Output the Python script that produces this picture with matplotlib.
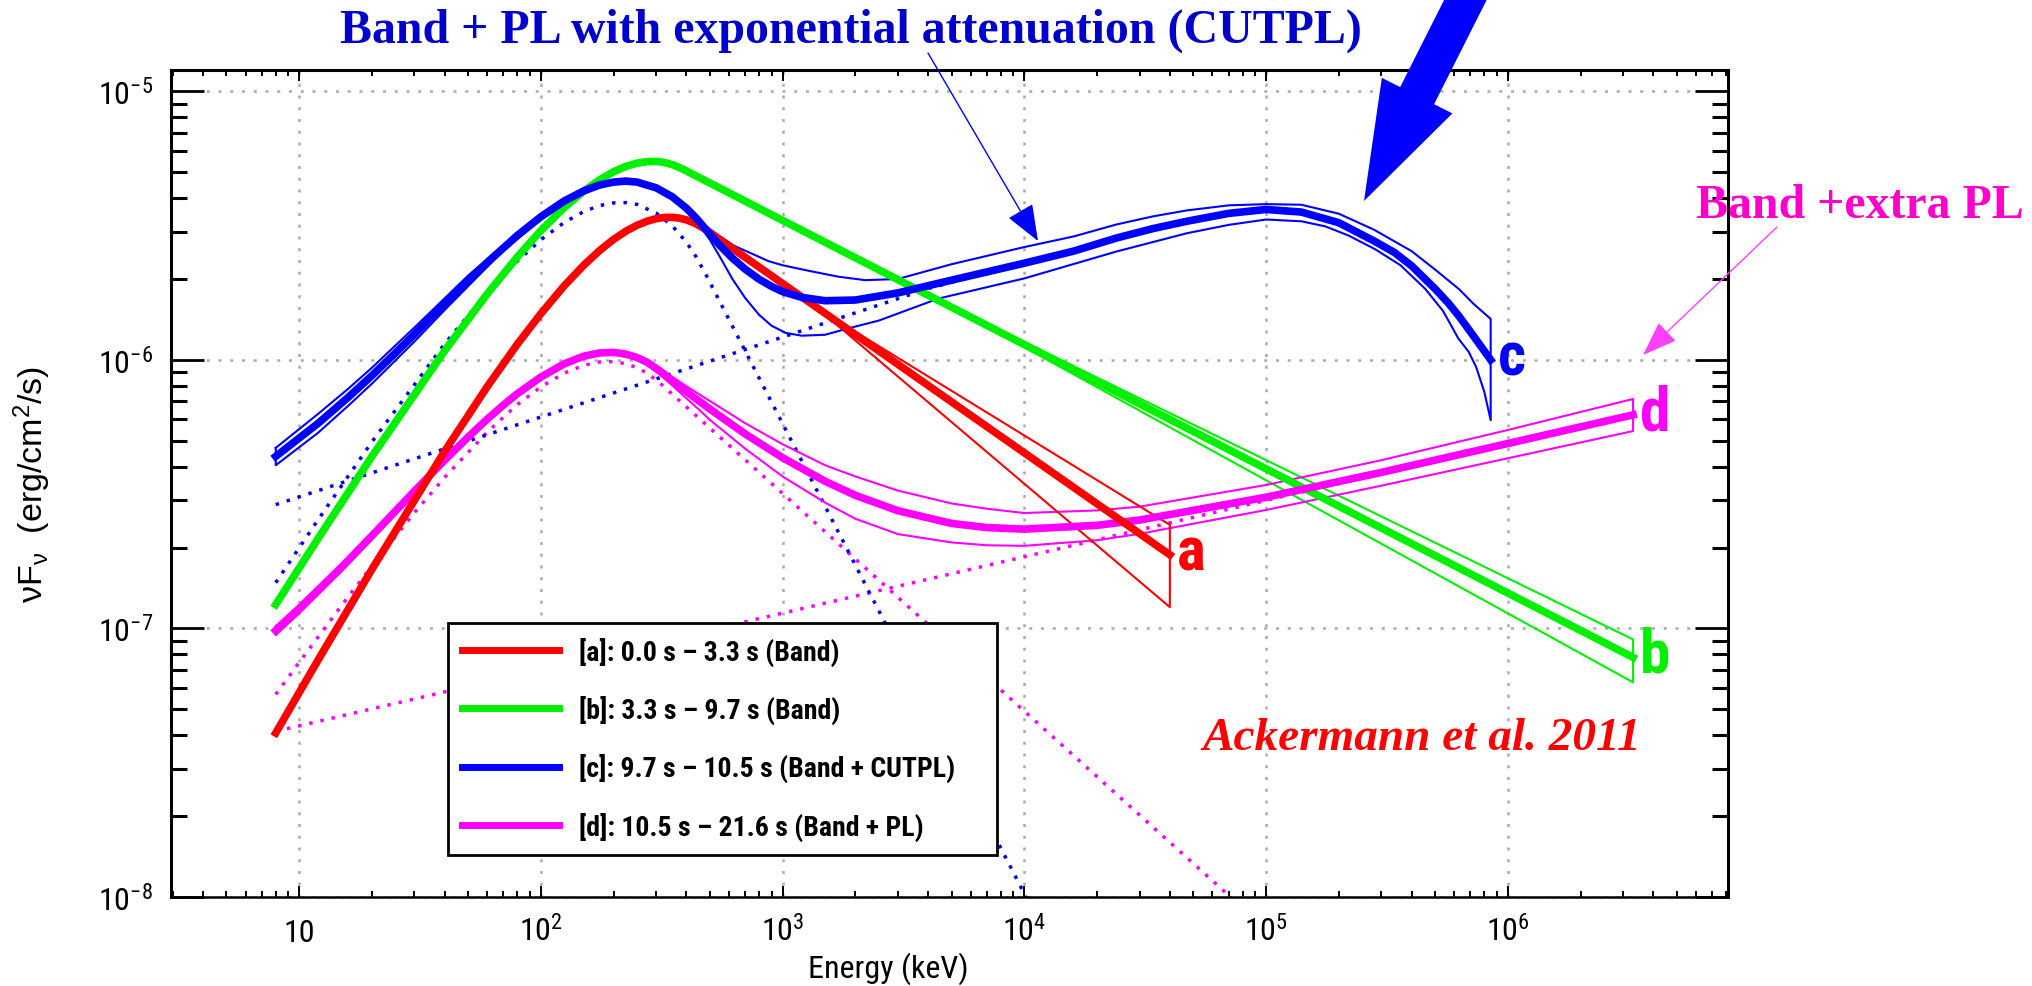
import numpy as np
import matplotlib
matplotlib.use("Agg")
import matplotlib.pyplot as plt
from matplotlib import font_manager as fm
from matplotlib.lines import Line2D
from matplotlib.patches import FancyArrow
from matplotlib.ticker import FixedLocator, LogLocator, NullFormatter


def tiene_negrita(nombre):
    pesos = {str(f.weight) for f in fm.fontManager.ttflist if f.name == nombre}
    return bool(pesos & {"400", "normal", "regular"}) and bool(pesos & {"700", "bold"})


# narrow sans with a real bold face, first one found
SANS = next((n for n in ["Liberation Sans Narrow", "Arial Narrow", "Roboto Condensed",
                         "Archivo Narrow", "PT Sans Narrow", "Fira Sans Condensed",
                         "Sofia Sans Condensed"] if tiene_negrita(n)), "Liberation Sans")
plt.rcParams["font.family"] = [SANS, "DejaVu Sans"]
plt.rcParams["mathtext.default"] = "regular"

# [a] Band, 0.0 - 3.3 s
E_a = [8, 12, 20, 40, 60, 80, 100, 125, 150, 175, 200, 225, 250, 275, 300, 325, 350, 375,
       400, 437, 474, 4.0e4]
F_a = [4.08e-8, 7.65e-8, 1.66e-7, 4.57e-7, 7.95e-7, 1.145e-6, 1.486e-6, 1.888e-6, 2.245e-6,
       2.553e-6, 2.81e-6, 3.015e-6, 3.17e-6, 3.282e-6, 3.355e-6, 3.39e-6, 3.394e-6, 3.368e-6,
       3.32e-6, 3.214e-6, 3.08e-6, 1.88e-7]
E_a_env = [474, 1400, 4.0e4]
F_a_up = [3.08e-6, 1.55e-6, 2.43e-7]
F_a_lo = [3.08e-6, 1.55e-6, 1.2e-7]

# [b] Band, 3.3 - 9.7 s
E_b = [8, 12, 20, 40, 60, 80, 100, 125, 150, 175, 200, 225, 250, 275, 300, 325, 355, 385,
       3.3e6]
F_b = [1.227e-7, 2.168e-7, 4.37e-7, 1.081e-6, 1.761e-6, 2.418e-6, 3.03e-6, 3.69e-6, 4.24e-6,
       4.68e-6, 5.02e-6, 5.25e-6, 5.40e-6, 5.47e-6, 5.48e-6, 5.43e-6, 5.31e-6, 5.14e-6, 7.8e-8]
E_b_env = [385, 4500, 3.3e6]
F_b_up = [5.14e-6, 1.655e-6, 9.1e-8]
F_b_lo = [5.14e-6, 1.655e-6, 6.3e-8]

# [c] Band + CUTPL, 9.7 - 10.5 s
E_c = [8, 12, 16, 20, 25, 30, 40, 50, 60, 80, 100, 125, 150, 175, 200, 225, 250, 300, 350,
       400, 440, 481, 550, 620, 700, 800, 900, 1000, 1200, 1500, 2000, 3000, 5000, 1e4,
       1.6e4, 2.4e4, 3.4e4, 4.7e4, 7e4, 1e5, 1.4e5, 2e5, 2.8e5, 3.4e5, 4e5, 5e5, 5.7e5,
       6.3e5, 7.2e5, 8.5e5]
F_c = [4.37e-7, 5.81e-7, 7.27e-7, 8.74e-7, 1.06e-6, 1.245e-6, 1.614e-6, 1.967e-6, 2.305e-6,
       2.908e-6, 3.41e-6, 3.906e-6, 4.25e-6, 4.479e-6, 4.59e-6, 4.63e-6, 4.59e-6, 4.37e-6,
       4.044e-6, 3.67e-6, 3.364e-6, 3.06e-6, 2.667e-6, 2.392e-6, 2.176e-6, 1.995e-6,
       1.877e-6, 1.794e-6, 1.708e-6, 1.66e-6, 1.67e-6, 1.775e-6, 1.98e-6, 2.29e-6, 2.54e-6,
       2.84e-6, 3.08e-6, 3.28e-6, 3.51e-6, 3.63e-6, 3.55e-6, 3.24e-6, 2.77e-6, 2.51e-6,
       2.24e-6, 1.84e-6, 1.62e-6, 1.45e-6, 1.23e-6, 1.0e-6]
E_c_up = [8, 12, 16, 20, 30, 40, 50, 70, 100, 150, 200, 250, 300, 350, 400, 450, 530, 630,
          750, 875, 1000, 1300, 1700, 2200, 3000, 5000, 1e4, 1.6e4, 2.4e4, 3.4e4, 4.7e4, 7e4,
          1e5, 1.4e5, 2e5, 2.8e5, 4e5, 5e5, 6.3e5, 7.2e5, 8.5e5]
F_c_up = [4.7e-7, 6.3e-7, 7.82e-7, 9.35e-7, 1.32e-6, 1.695e-6, 2.06e-6, 2.67e-6, 3.49e-6,
          4.3e-6, 4.64e-6, 4.62e-6, 4.4e-6, 4.07e-6, 3.69e-6, 3.3e-6, 2.95e-6, 2.66e-6,
          2.48e-6, 2.33e-6, 2.25e-6, 2.14e-6, 2.04e-6, 1.98e-6, 2.0e-6, 2.27e-6, 2.63e-6,
          2.88e-6, 3.19e-6, 3.42e-6, 3.6e-6, 3.76e-6, 3.8e-6, 3.78e-6, 3.5e-6, 3.05e-6,
          2.54e-6, 2.17e-6, 1.83e-6, 1.62e-6, 1.42e-6]
E_c_lo = [8, 12, 16, 20, 30, 40, 50, 70, 100, 150, 200, 250, 300, 350, 400, 450, 500, 550,
          620, 700, 800, 900, 1030, 1200, 1500, 1870, 2500, 4400, 1e4, 2.4e4, 4.7e4, 7e4,
          1e5, 1.4e5, 1.76e5, 2.2e5, 2.83e5, 3.6e5, 4.55e5, 5.4e5, 6.25e5, 6.9e5, 7.4e5,
          8e5, 8.5e5]
F_c_lo = [4.05e-7, 5.36e-7, 6.76e-7, 8.15e-7, 1.17e-6, 1.533e-6, 1.88e-6, 2.55e-6, 3.33e-6,
          4.2e-6, 4.54e-6, 4.55e-6, 4.3e-6, 3.98e-6, 3.6e-6, 3.2e-6, 2.8e-6, 2.42e-6, 2.0e-6,
          1.7e-6, 1.47e-6, 1.34e-6, 1.26e-6, 1.23e-6, 1.24e-6, 1.31e-6, 1.4e-6, 1.69e-6,
          2.01e-6, 2.53e-6, 2.96e-6, 3.18e-6, 3.33e-6, 3.28e-6, 3.14e-6, 2.9e-6, 2.58e-6,
          2.25e-6, 1.84e-6, 1.52e-6, 1.2e-6, 1.07e-6, 9.4e-7, 7.6e-7, 5.96e-7]
# components of [c]
E_c_band = [8, 12, 20, 40, 60, 80, 100, 125, 150, 175, 200, 225, 250, 300, 350, 400, 440,
            481, 1000, 1.1e4]
F_c_band = [1.48e-7, 2.545e-7, 4.95e-7, 1.147e-6, 1.778e-6, 2.334e-6, 2.80e-6, 3.25e-6,
            3.56e-6, 3.754e-6, 3.84e-6, 3.85e-6, 3.79e-6, 3.52e-6, 3.153e-6, 2.74e-6,
            2.41e-6, 2.08e-6, 5.79e-7, 8.7e-9]
E_c_cut = [8, 1000, 4000, 1e4]
F_c_cut = [2.89e-7, 1.215e-6, 1.842e-6, 2.29e-6]

# [d] Band + PL, 10.5 - 21.6 s
E_d = [8, 10, 15, 20, 30, 40, 50, 60, 70, 80, 100, 125, 150, 175, 200, 225, 250, 275, 309,
       350, 400, 450, 500, 700, 1000, 1500, 2000, 3000, 5000, 7000, 1e4, 2e4, 3e4, 1e5,
       3e5, 1e6, 3.3e6]
F_d = [9.82e-8, 1.181e-7, 1.691e-7, 2.212e-7, 3.247e-7, 4.232e-7, 5.16e-7, 6.016e-7,
       6.79e-7, 7.488e-7, 8.63e-7, 9.67e-7, 1.031e-6, 1.061e-6, 1.066e-6, 1.05e-6, 1.02e-6,
       9.80e-7, 9.12e-7, 8.36e-7, 7.62e-7, 7.04e-7, 6.56e-7, 5.30e-7, 4.32e-7, 3.53e-7,
       3.13e-7, 2.743e-7, 2.46e-7, 2.374e-7, 2.343e-7, 2.42e-7, 2.533e-7, 3.08e-7, 3.81e-7,
       4.88e-7, 6.24e-7]
F_d_up = [1.02e-7, 1.225e-7, 1.747e-7, 2.274e-7, 3.315e-7, 4.30e-7, 5.232e-7, 6.086e-7,
          6.837e-7, 7.52e-7, 8.63e-7, 9.67e-7, 1.031e-6, 1.061e-6, 1.066e-6, 1.055e-6,
          1.032e-6, 9.96e-7, 9.33e-7, 8.64e-7, 7.98e-7, 7.46e-7, 7.03e-7, 5.81e-7, 4.85e-7,
          4.05e-7, 3.68e-7, 3.26e-7, 2.92e-7, 2.79e-7, 2.69e-7, 2.75e-7, 2.84e-7, 3.42e-7,
          4.23e-7, 5.48e-7, 7.15e-7]
F_d_lo = [9.44e-8, 1.138e-7, 1.637e-7, 2.152e-7, 3.18e-7, 4.164e-7, 5.089e-7, 5.947e-7,
          6.743e-7, 7.454e-7, 8.63e-7, 9.67e-7, 1.031e-6, 1.061e-6, 1.066e-6, 1.045e-6,
          1.006e-6, 9.60e-7, 8.85e-7, 8.02e-7, 7.19e-7, 6.54e-7, 5.98e-7, 4.67e-7, 3.68e-7,
          2.94e-7, 2.56e-7, 2.245e-7, 2.09e-7, 2.04e-7, 2.03e-7, 2.13e-7, 2.25e-7, 2.76e-7,
          3.40e-7, 4.30e-7, 5.43e-7]
# components of [d]
E_d_band = [8, 10, 15, 20, 30, 40, 60, 80, 100, 125, 150, 175, 200, 225, 250, 275, 309,
            1000, 1e4, 1e5]
F_d_band = [5.68e-8, 7.47e-8, 1.219e-7, 1.71e-7, 2.70e-7, 3.652e-7, 5.384e-7, 6.817e-7,
            7.93e-7, 8.93e-7, 9.54e-7, 9.82e-7, 9.85e-7, 9.67e-7, 9.35e-7, 8.925e-7, 8.23e-7,
            3.18e-7, 4.92e-8, 7.6e-9]
E_d_pl = [8, 3.3e6]
F_d_pl = [4.14e-8, 6.24e-7]

etiquetas = ["[a]: 0.0 s \u2013 3.3 s (Band)",
             "[b]: 3.3 s \u2013 9.7 s (Band)",
             "[c]: 9.7 s \u2013 10.5 s (Band + CUTPL)",
             "[d]: 10.5 s \u2013 21.6 s (Band + PL)"]
letras = ["a", "b", "c", "d"]
ROJO, VERDE, AZUL, MAGENTA = "#ff0000", "#00f000", "#0000ff", "#ff00ff"
colores = [ROJO, VERDE, AZUL, MAGENTA]

x_ticks = [10, 1e2, 1e3, 1e4, 1e5, 1e6]
x_labels = ["10", "$10^{2}$", "$10^{3}$", "$10^{4}$", "$10^{5}$", "$10^{6}$"]
y_ticks = [1e-8, 1e-7, 1e-6, 1e-5]
y_labels = ["$10^{-8}$", "$10^{-7}$", "$10^{-6}$", "$10^{-5}$"]

fig = plt.figure(figsize=(20.33, 9.87), dpi=100)
ax = fig.add_axes([0.08411, 0.09017, 0.76586, 0.83790])
ax.set_xscale("log")
ax.set_yscale("log")
ax.set_xlim(2.95, 8.15e6)
ax.set_ylim(1e-8, 1.2e-5)

punteado = (0, (1, 2.3))
GRUESO, FINO, PUNTOS = 5.5, 1.5, 2.5


def contorno(Eu, Fu, El, Fl, color):
    # upper edge, then lower edge backwards, closed at both ends
    x = np.concatenate([Eu, El[::-1], Eu[:1]])
    y = np.concatenate([Fu, Fl[::-1], Fu[:1]])
    ax.plot(x, y, color=color, lw=FINO, zorder=3)


# green
contorno(E_b_env, F_b_up, E_b_env, F_b_lo, VERDE)
ax.plot(E_b, F_b, color=VERDE, lw=GRUESO, zorder=3.5)

# magenta, with its two components dotted
ax.plot(E_d_band, F_d_band, color=MAGENTA, lw=PUNTOS, ls=punteado, zorder=2)
ax.plot(E_d_pl, F_d_pl, color=MAGENTA, lw=PUNTOS, ls=punteado, zorder=2)
contorno(E_d, F_d_up, E_d, F_d_lo, MAGENTA)
ax.plot(E_d, F_d, color=MAGENTA, lw=GRUESO, zorder=3.5)

# red
contorno(E_a_env, F_a_up, E_a_env, F_a_lo, ROJO)
ax.plot(E_a, F_a, color=ROJO, lw=GRUESO, zorder=3.5)

# blue, with its two components dotted
ax.plot(E_c_band, F_c_band, color=AZUL, lw=PUNTOS, ls=punteado, zorder=2)
ax.plot(E_c_cut, F_c_cut, color=AZUL, lw=PUNTOS, ls=punteado, zorder=2)
contorno(E_c_up, F_c_up, E_c_lo, F_c_lo, AZUL)
ax.plot(E_c, F_c, color=AZUL, lw=GRUESO, zorder=3.5)

# letters at the end of each central curve
for letra, E, F, col in zip(letras, [E_a, E_b, E_c, E_d], [F_a, F_b, F_c, F_d], colores):
    ax.annotate(letra, xy=(E[-1], F[-1]), xytext=(5, 2), textcoords="offset points",
                ha="left", va="center", color=col, fontsize=44, fontweight="bold",
                family=SANS, zorder=5)

# axes, ticks and grid
ax.xaxis.set_major_locator(FixedLocator(x_ticks))
ax.set_xticklabels(x_labels)
ax.yaxis.set_major_locator(FixedLocator(y_ticks))
ax.set_yticklabels(y_labels)
for eje in (ax.xaxis, ax.yaxis):
    eje.set_minor_locator(LogLocator(base=10, subs=np.arange(2, 10), numticks=100))
    eje.set_minor_formatter(NullFormatter())

ax.tick_params(axis="x", which="major", direction="in", length=8, width=1.4,
               top=True, bottom=True, labelsize=23, pad=31.5)
ax.tick_params(axis="x", which="minor", direction="in", length=4.5, width=1.4,
               top=True, bottom=True)
ax.tick_params(axis="y", which="major", direction="in", length=24, width=2.0,
               left=True, right=True, labelsize=23, pad=13)
ax.tick_params(axis="y", which="minor", direction="in", length=11.5, width=2.2,
               left=True, right=True)
plt.setp(ax.get_xticklabels(), va="baseline")

ax.set_axisbelow(True)
ax.grid(True, which="major", color="#aaaaaa", lw=1.8, ls=(0, (1.2, 3.5)))
for lado in ("left", "right", "top"):
    ax.spines[lado].set_linewidth(2.2)
ax.spines["bottom"].set_linewidth(1.8)
ax.spines["bottom"].set_linestyle((0, (3, 1)))

xl = ax.set_xlabel("Energy (keV)", fontsize=23)
xl.set_va("baseline")
ax.xaxis.set_label_coords(0.461, -0.0967)
ax.set_ylabel("\u03bdF$_{\u03bd}$  (erg/cm$^{2}$/s)", fontsize=24.5, family="Liberation Sans")
ax.yaxis.set_label_coords(-0.0758, 0.5)

# legend
manijas = [Line2D([], [], color=c, lw=5) for c in colores]
leyenda = ax.legend(manijas, etiquetas, loc="upper left",
                    bbox_to_anchor=(0.1777, 0.0557, 0.3526, 0.2760), mode="expand",
                    borderaxespad=0, prop={"family": SANS, "weight": "bold", "size": 20},
                    handlelength=3.5, handletextpad=0.72, labelspacing=1.05,
                    borderpad=0.5, fancybox=False, edgecolor="black", framealpha=1)
leyenda.get_frame().set_linewidth(2)
leyenda.set_zorder(6)

# annotations around the panel
W, H = 2033, 987
fig.text(340 / W, 1 - 43 / H, "Band + PL with exponential attenuation (CUTPL)",
         ha="left", va="baseline", fontsize=34.5, fontweight="bold",
         family="Liberation Serif", color="#0000cc")
fig.text(1696 / W, 1 - 218 / H, "Band +extra PL", ha="left", va="baseline",
         fontsize=34.5, fontweight="bold", family="Liberation Serif", color="#ff00cc",
         zorder=10)
fig.text(1202 / W, 1 - 750 / H, "Ackermann et al. 2011", ha="left", va="baseline",
         fontsize=34, fontweight="bold", style="italic", family="Liberation Serif",
         color="#ff0000")

ax.annotate("", xy=(1038, H - 242), xycoords="figure pixels",
            xytext=(928, H - 54), textcoords="figure pixels",
            arrowprops=dict(arrowstyle="-|>,head_length=2.3,head_width=0.9",
                            mutation_scale=10, color="#0000ff", lw=1.0,
                            shrinkA=0, shrinkB=0), annotation_clip=False)
ax.annotate("", xy=(1643, H - 356), xycoords="figure pixels",
            xytext=(1777, H - 228), textcoords="figure pixels",
            arrowprops=dict(arrowstyle="-|>,head_length=2.2,head_width=0.8",
                            mutation_scale=10, color="#ff40ff", lw=1.0,
                            shrinkA=0, shrinkB=0), annotation_clip=False)

flecha = FancyArrow(14.80, 10.15, -1.16, -2.30, width=0.38, head_width=0.79,
                    head_length=1.18, length_includes_head=True,
                    transform=fig.dpi_scale_trans, color="#0000ff", lw=0)
fig.add_artist(flecha)

fig.savefig("out.png", dpi=100, facecolor="white")
